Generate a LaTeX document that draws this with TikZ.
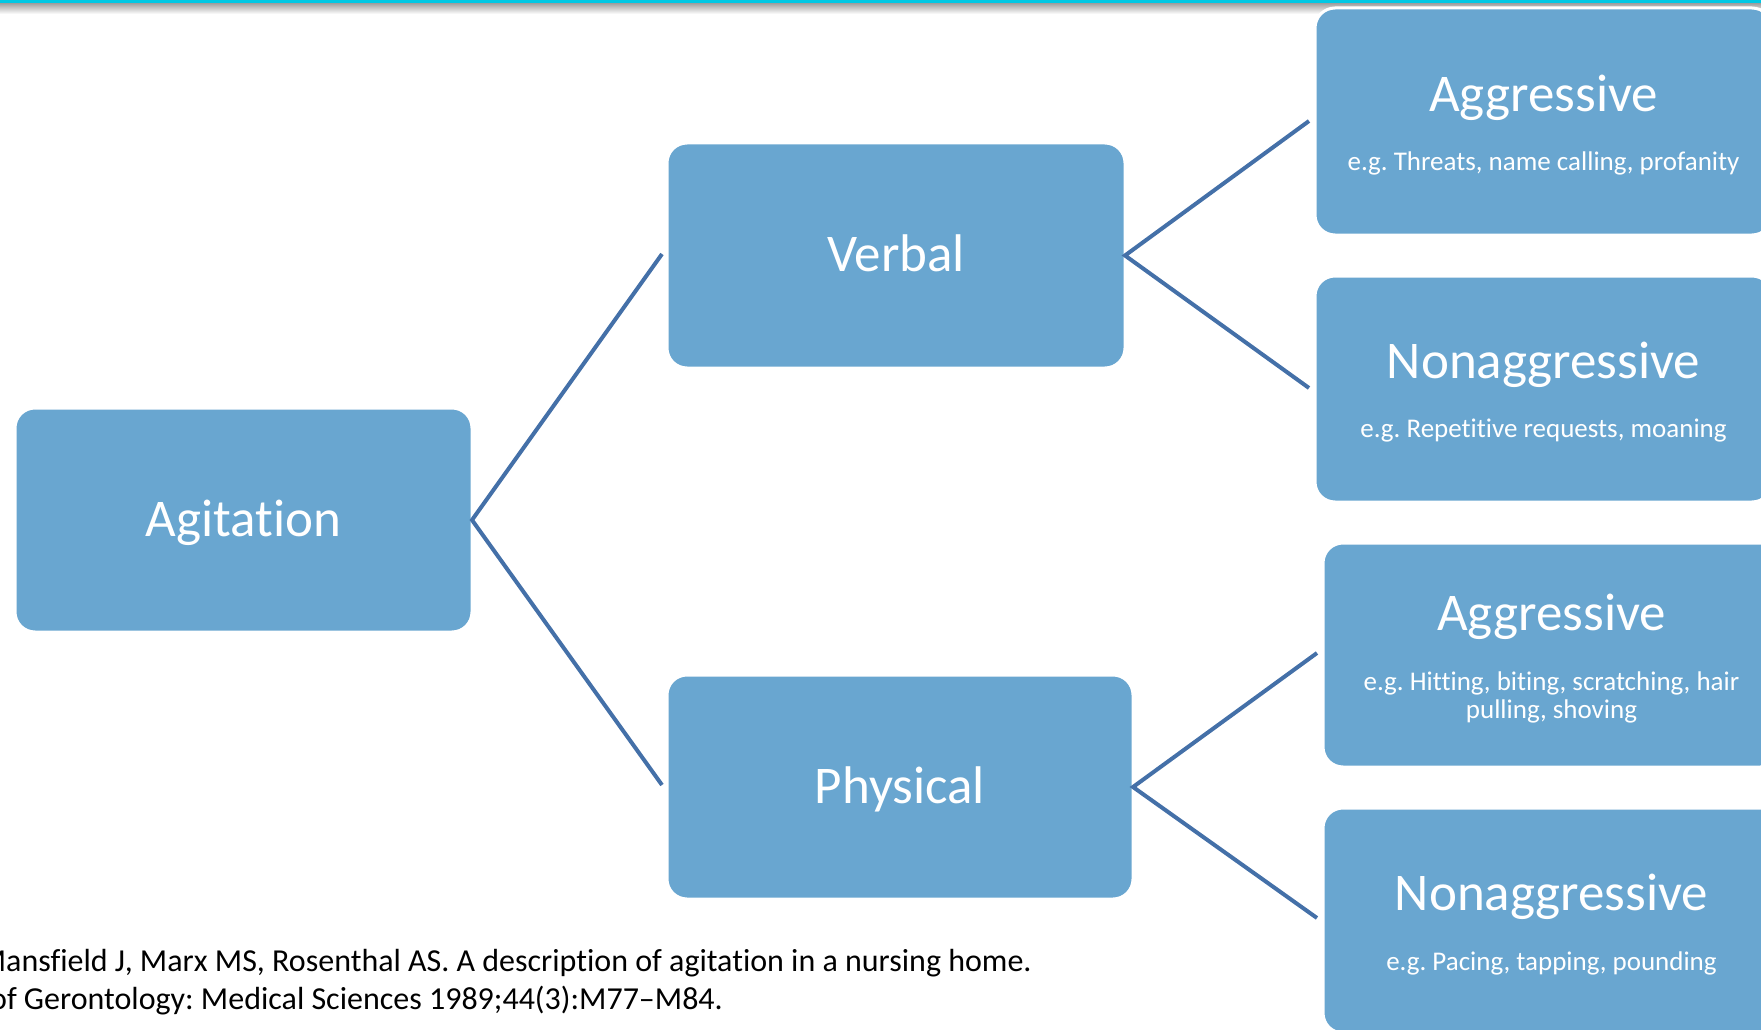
\documentclass[tikz,border=0pt]{standalone}
\usepackage{fontspec}
\setmainfont[Ligatures=NoCommon]{Carlito}
\frenchspacing
\definecolor{boxblue}{HTML}{69A6D0}
\definecolor{linkblue}{HTML}{4470A8}
\definecolor{bandcyan}{HTML}{00C8E4}
\begin{document}
\begin{tikzpicture}[x=1pt,y=-1pt,
  box/.style={rectangle, rounded corners=20pt, fill=boxblue, draw=white, line width=3pt, inner sep=0pt, outer sep=0pt},
  link/.style={draw=linkblue, line width=4pt},
  title/.style={anchor=base, text=white, inner sep=0pt, font=\fontsize{53}{60}\selectfont},
  subtitle/.style={anchor=base, text=white, inner sep=0pt, font=\fontsize{27}{32}\selectfont},
  citeline/.style={anchor=base east, inner sep=0pt, font=\fontsize{32}{38}\selectfont}]
\useasboundingbox (0,0) rectangle (1761,1030);
\begin{scope}
\clip (0,0) rectangle (1761,1030);
\fill[bandcyan] (0,0) rectangle (1761,4);
\shade[top color=black!35, bottom color=white] (0,4) rectangle (1761,14);

% boxes
\node[box, minimum width=457pt, minimum height=224pt] (agit) at (243.5,520) {};
\node[box, minimum width=458pt, minimum height=225pt] (verbal) at (896,255.5) {};
\node[box, minimum width=466pt, minimum height=224pt] (phys) at (900,787) {};
\node[box, minimum width=457pt, minimum height=227pt] (agg1) at (1543.5,121.5) {};
\node[box, minimum width=457pt, minimum height=226pt] (non1) at (1543.5,389) {};
\node[box, minimum width=457pt, minimum height=224pt] (agg2) at (1551.5,655) {};
\node[box, minimum width=457pt, minimum height=225pt] (non2) at (1551.5,920.5) {};

% titles
\node[title] (tagit) at ([yshift=-16pt]agit.center) {Agitation};
\node[title] (tverbal) at ([yshift=-16pt]verbal.center) {Verbal};
\node[title] (tphys) at ([yshift=-16pt]phys.center) {Physical};
\node[title] (tagg1) at ([yshift=10pt]agg1.center) {Aggressive};
\node[subtitle] (sagg1) at ([yshift=-49pt]agg1.center) {e.g. Threats, name calling, profanity};
\node[title] (tnon1) at ([yshift=10.5pt]non1.center) {Nonaggressive};
\node[subtitle] (snon1) at ([yshift=-48.5pt]non1.center) {e.g. Repetitive requests, moaning};
\node[title] (tagg2) at ([yshift=25pt]agg2.center) {Aggressive};
\node[subtitle] (sagg2a) at ([yshift=-35pt]agg2.center) {e.g. Hitting, biting, scratching, hair};
\node[subtitle] (sagg2b) at ([yshift=-63pt]agg2.center) {pulling, shoving};
\node[title] (tnon2) at ([yshift=10.5pt]non2.center) {Nonaggressive};
\node[subtitle] (snon2) at ([yshift=-49.5pt]non2.center) {e.g. Pacing, tapping, pounding};

% connector ends
\coordinate (e1) at (662,254);
\coordinate (e2) at (662,785);
\coordinate (e3) at (1309,121);
\coordinate (e4) at (1309,388);
\coordinate (e5) at (1317,653);
\coordinate (e6) at (1317,918);
\draw[link] (e1) -- (agit.east) -- (e2);
\draw[link] (e3) -- (verbal.east) -- (e4);
\draw[link] (e5) -- (phys.east) -- (e6);

% citation
\node[citeline] (cite1) at (1032,971) {Mansfield J, Marx MS, Rosenthal AS. A description of agitation in a nursing home.};
\node[citeline] (cite2) at (723,1009) {of Gerontology: Medical Sciences 1989;44(3):M77–M84.};
\end{scope}
\end{tikzpicture}
\end{document}
